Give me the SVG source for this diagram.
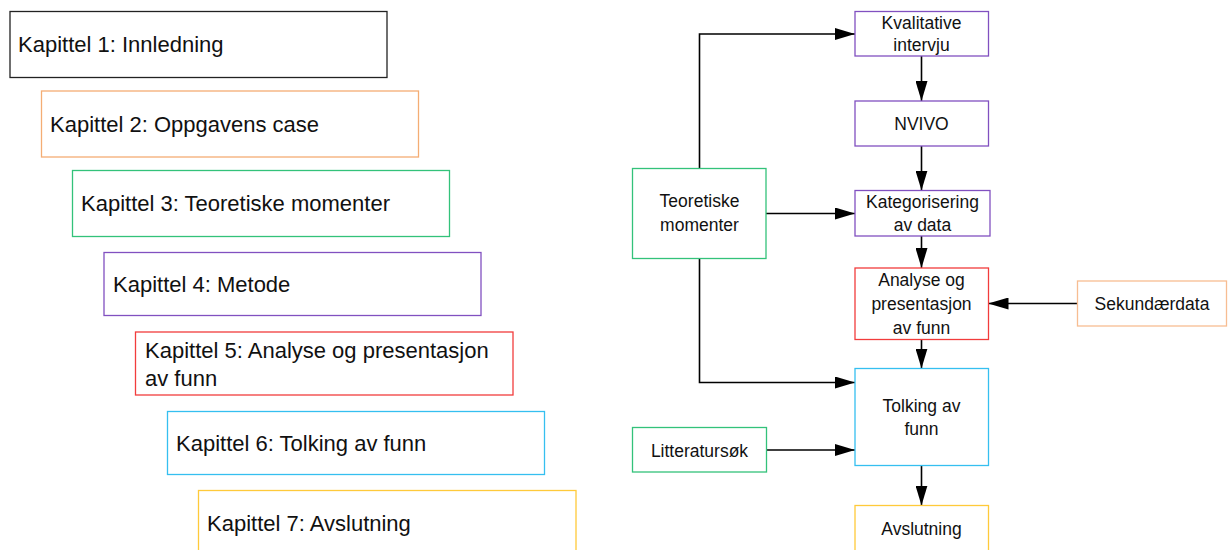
<svg xmlns="http://www.w3.org/2000/svg" width="1228" height="550" viewBox="0 0 1228 550">
  <style>
    .box { fill: #ffffff; stroke-width: 1.3; }
    .chap { font-family: "Liberation Sans", Arial, sans-serif; font-size: 22px; fill: #111111; }
    .lbl { font-family: "Liberation Sans", Arial, sans-serif; font-size: 17.5px; fill: #111111; text-anchor: middle; }
    .black { stroke: #222222; }
    .orange { stroke: #F4AD74; }
    .green { stroke: #33C27A; }
    .purple { stroke: #8150C0; }
    .red { stroke: #F23C3C; }
    .blue { stroke: #35BFF0; }
    .yellow { stroke: #FFCA3A; }
    .peach { stroke: #F7BD92; }
    .conn { fill: none; stroke: #000000; stroke-width: 1.6; }
  </style>
  <defs>
    <marker id="arrow" viewBox="0 0 20 12" refX="20" refY="6" markerWidth="20" markerHeight="12" markerUnits="userSpaceOnUse" orient="auto">
      <path d="M0,0 L20,6 L0,12 Z" fill="#000000"/>
    </marker>
  </defs>

  <rect width="1228" height="550" fill="#ffffff"/>

  <!-- Chapter overview, stepped down to the right -->
  <g id="kap1">
    <rect class="box black" x="10" y="11.5" width="377" height="66"/>
    <text class="chap" x="18" y="52">Kapittel 1: Innledning</text>
  </g>
  <g id="kap2">
    <rect class="box orange" x="41.5" y="91" width="377" height="66"/>
    <text class="chap" x="50" y="131.5">Kapittel 2: Oppgavens case</text>
  </g>
  <g id="kap3">
    <rect class="box green" x="72.5" y="170.5" width="377" height="66"/>
    <text class="chap" x="81" y="211">Kapittel 3: Teoretiske momenter</text>
  </g>
  <g id="kap4">
    <rect class="box purple" x="104" y="252.5" width="377" height="63"/>
    <text class="chap" x="113" y="292">Kapittel 4: Metode</text>
  </g>
  <g id="kap5">
    <rect class="box red" x="135.5" y="332" width="377.5" height="63"/>
    <text class="chap" x="145" y="357.5">Kapittel 5: Analyse og presentasjon</text>
    <text class="chap" x="145" y="385.5">av funn</text>
  </g>
  <g id="kap6">
    <rect class="box blue" x="167.5" y="411.5" width="377" height="63"/>
    <text class="chap" x="176" y="451">Kapittel 6: Tolking av funn</text>
  </g>
  <g id="kap7">
    <rect class="box yellow" x="198.5" y="490.5" width="377.5" height="66"/>
    <text class="chap" x="207" y="530.5">Kapittel 7: Avslutning</text>
  </g>

  <!-- Connectors of the research process -->
  <g id="connectors">
    <path class="conn" d="M699.5,168.5 L699.5,34 L855,34" marker-end="url(#arrow)"/>
    <path class="conn" d="M766,213.5 L855,213.5" marker-end="url(#arrow)"/>
    <path class="conn" d="M699.5,258.5 L699.5,382.5 L855,382.5" marker-end="url(#arrow)"/>
    <path class="conn" d="M921.5,56 L921.5,101" marker-end="url(#arrow)"/>
    <path class="conn" d="M921.5,146 L921.5,190.5" marker-end="url(#arrow)"/>
    <path class="conn" d="M921.5,236 L921.5,268" marker-end="url(#arrow)"/>
    <path class="conn" d="M1077.5,303.5 L988.5,303.5" marker-end="url(#arrow)"/>
    <path class="conn" d="M921.5,339.5 L921.5,368.5" marker-end="url(#arrow)"/>
    <path class="conn" d="M766.5,450 L855,450" marker-end="url(#arrow)"/>
    <path class="conn" d="M921.5,465.5 L921.5,505.5" marker-end="url(#arrow)"/>
  </g>

  <!-- Research process nodes -->
  <g id="kvalitative">
    <rect class="box purple" x="855" y="11.5" width="133.5" height="44.5"/>
    <text class="lbl" x="921.5" y="28.5">Kvalitative</text>
    <text class="lbl" x="921.5" y="50.5">intervju</text>
  </g>
  <g id="nvivo">
    <rect class="box purple" x="855" y="101" width="133.5" height="45"/>
    <text class="lbl" x="921.5" y="130">NVIVO</text>
  </g>
  <g id="kategorisering">
    <rect class="box purple" x="855" y="190.5" width="135" height="45.5"/>
    <text class="lbl" x="922.5" y="207.5">Kategorisering</text>
    <text class="lbl" x="922.5" y="230.5">av data</text>
  </g>
  <g id="teoretiske">
    <rect class="box green" x="632.5" y="168.5" width="133.5" height="90"/>
    <text class="lbl" x="699.5" y="206.5">Teoretiske</text>
    <text class="lbl" x="699.5" y="231">momenter</text>
  </g>
  <g id="analyse">
    <rect class="box red" x="855" y="268" width="133.5" height="71.5"/>
    <text class="lbl" x="921.5" y="286">Analyse og</text>
    <text class="lbl" x="921.5" y="310">presentasjon</text>
    <text class="lbl" x="921.5" y="333.5">av funn</text>
  </g>
  <g id="sekundaerdata">
    <rect class="box peach" x="1077.5" y="281" width="149" height="45"/>
    <text class="lbl" x="1152" y="310">Sekundærdata</text>
  </g>
  <g id="tolking">
    <rect class="box blue" x="855" y="368.5" width="133.5" height="97"/>
    <text class="lbl" x="921.5" y="411.5">Tolking av</text>
    <text class="lbl" x="921.5" y="435">funn</text>
  </g>
  <g id="litteratursok">
    <rect class="box green" x="632.5" y="427.5" width="134" height="44.5"/>
    <text class="lbl" x="699.5" y="456.5">Litteratursøk</text>
  </g>
  <g id="avslutning">
    <rect class="box yellow" x="855" y="505.5" width="133.5" height="60"/>
    <text class="lbl" x="921.5" y="535">Avslutning</text>
  </g>
</svg>
